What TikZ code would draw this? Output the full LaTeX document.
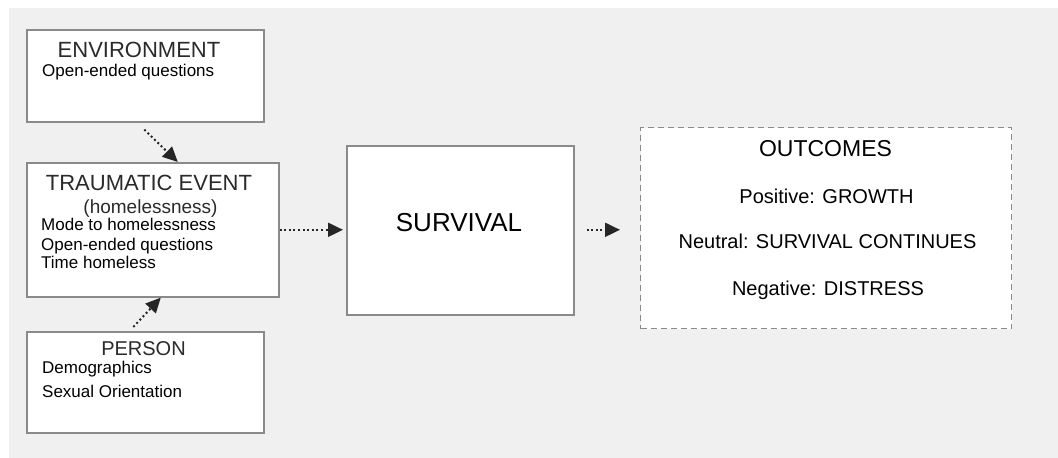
\documentclass[tikz,border=0pt]{standalone}
\usepackage{fontspec}
\setmainfont{Liberation Sans}
\usetikzlibrary{arrows.meta}
\definecolor{bggray}{HTML}{F0F0F0}
\definecolor{boxline}{HTML}{8A8A8A}
\definecolor{headtxt}{HTML}{2A2A2A}
\definecolor{arrowcol}{HTML}{262626}
\newcommand{\headfont}{\fontsize{22}{26}\selectfont}
\newcommand{\bodyfont}{\fontsize{17}{20}\selectfont}
\newcommand{\outfont}{\fontsize{20}{24}\selectfont}

\begin{document}
\begin{tikzpicture}[x=1pt,y=-1pt,
  box/.style={draw=boxline,fill=white,line width=1.6pt,anchor=north west,inner sep=0pt},
  dashbox/.style={box,dash pattern=on 6pt off 4pt,line width=1.3pt},
  head/.style={anchor=base,inner sep=0pt,text=headtxt,font=\headfont},
  body/.style={anchor=base west,inner sep=0pt,font=\bodyfont},
  outline/.style={anchor=base,inner sep=0pt,font=\outfont},
  flow/.style={draw=arrowcol,line width=2pt,dash pattern=on 2pt off 2.6pt,
    -{Triangle[length=15pt,width=14pt]}}]
\useasboundingbox (0,0) rectangle (1058,458);
\fill[bggray] (9,8) rectangle (1058,458);

% boxes
\node[box,minimum width=237pt,minimum height=92pt] (env) at (26,29) {};
\node[box,minimum width=252pt,minimum height=134pt] (trauma) at (26,162) {};
\node[box,minimum width=237pt,minimum height=101pt] (person) at (26,331) {};
\node[box,minimum width=227pt,minimum height=169pt] (survival) at (346,145) {};
\node[dashbox,minimum width=371pt,minimum height=201pt] (outcomes) at (640,127) {};

% texts
\node[head] (envhead) at (139,57) {ENVIRONMENT};
\node[body] (envq) at (42,76) {Open-ended questions};

\node[head] (traumahead) at (149,190) {TRAUMATIC EVENT};
\node[head,font=\fontsize{19}{22}\selectfont] (traumasub) at (150.5,213) {(homelessness)};
\node[body] (mode) at (41,230) {Mode to homelessness};
\node[body] (traumaq) at (41,250) {Open-ended questions};
\node[body] (time) at (41,268) {Time homeless};

\node[head,font=\fontsize{20}{24}\selectfont] (personhead) at (143.5,355) {PERSON};
\node[body] (demo) at (42,373) {Demographics};
\node[body] (sexual) at (42,397) {Sexual Orientation};

\node[head,text=black,font=\fontsize{26}{30}\selectfont] (survivalhead) at (459,231) {SURVIVAL};

\node[head,text=black,font=\fontsize{23}{27}\selectfont] (outhead) at (825.5,156) {OUTCOMES};
\node[outline] (pos) at (826.5,203) {Positive: GROWTH};
\node[outline] (neu) at (827.5,248) {Neutral: SURVIVAL CONTINUES};
\node[outline] (neg) at (828,295) {Negative: DISTRESS};

% connectors
\draw[flow] ([xshift=-1pt,yshift=-7pt]env.south) -- ([xshift=25pt]trauma.north);
\draw[flow] ([xshift=-12pt,yshift=4pt]person.north) -- ([xshift=8pt]trauma.south);
\draw[flow,shorten >=3pt] (trauma.east) -- (trauma.east -| survival.west);
\draw[flow,shorten <=12pt,shorten >=20pt] (survival.east |- trauma.east) -- (outcomes.west |- trauma.east);
\end{tikzpicture}
\end{document}
